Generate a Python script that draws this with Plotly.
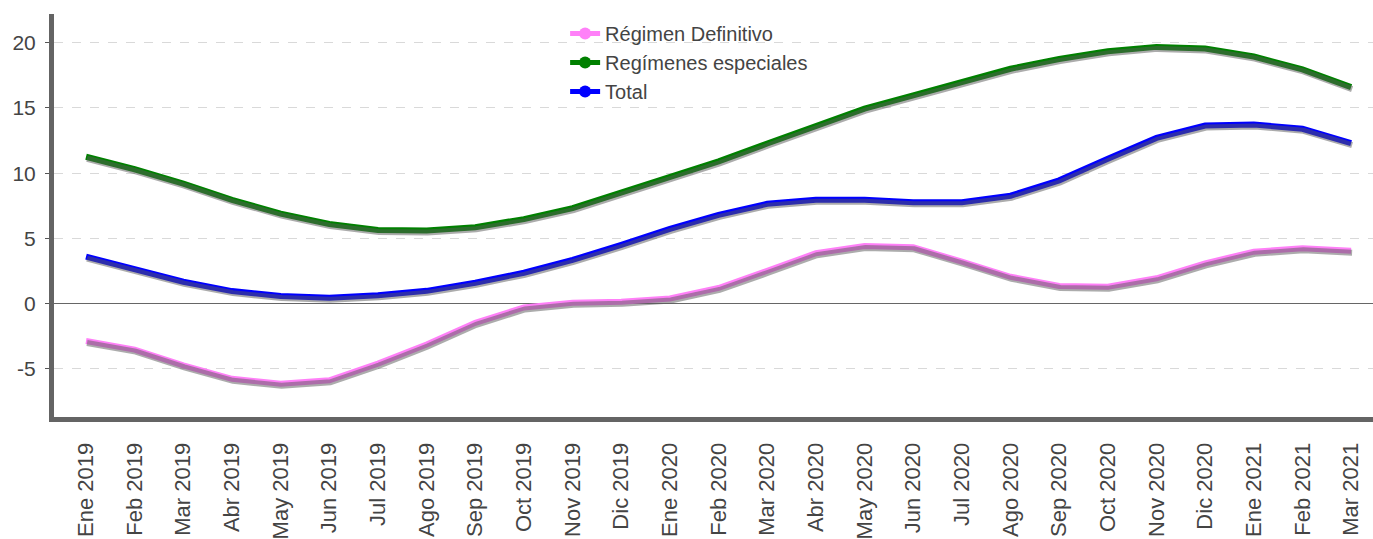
import plotly.graph_objects as go

months = ["Ene 2019", "Feb 2019", "Mar 2019", "Abr 2019", "May 2019", "Jun 2019", "Jul 2019",
          "Ago 2019", "Sep 2019", "Oct 2019", "Nov 2019", "Dic 2019", "Ene 2020", "Feb 2020",
          "Mar 2020", "Abr 2020", "May 2020", "Jun 2020", "Jul 2020", "Ago 2020", "Sep 2020",
          "Oct 2020", "Nov 2020", "Dic 2020", "Ene 2021", "Feb 2021", "Mar 2021"]

regimen_definitivo = [-2.86, -3.52, -4.73, -5.76, -6.14, -5.88, -4.6, -3.14, -1.47, -0.29, 0.06, 0.14,
                      0.4, 1.2, 2.52, 3.86, 4.42, 4.32, 3.22, 2.06, 1.35, 1.3, 1.94, 3.09, 3.98, 4.24, 4.06]
regimenes_especiales = [11.26, 10.3, 9.2, 7.96, 6.9, 6.1, 5.65, 5.6, 5.86, 6.48, 7.32, 8.48,
                        9.63, 10.9, 12.27, 13.6, 14.94, 15.96, 16.98, 18.0, 18.75, 19.35, 19.68, 19.55,
                        18.94, 17.96, 16.6]
total = [3.6, 2.6, 1.68, 0.96, 0.58, 0.45, 0.65, 0.98, 1.6, 2.37, 3.35, 4.5,
         5.73, 6.8, 7.65, 7.96, 7.96, 7.78, 7.78, 8.27, 9.45, 11.1, 12.7, 13.65, 13.73, 13.4, 12.3]

series = [
    ("Régimen Definitivo", regimen_definitivo, "#ff80f8"),
    ("Regímenes especiales", regimenes_especiales, "#008000"),
    ("Total", total, "#0000ff"),
]

x_range = [-0.658, 26.45]
y_range = [-8.69, 22.2]
px_x = 48.65
px_y = 13.03

fig = go.Figure()

# shadows
for name, vals, col in series:
    fig.add_trace(go.Scatter(x=months, y=vals, mode="lines", xaxis="x2", yaxis="y2",
                             line=dict(color="rgba(90,90,90,0.5)", width=6),
                             showlegend=False, hoverinfo="skip"))
# main lines
for name, vals, col in series:
    fig.add_trace(go.Scatter(x=months, y=vals, mode="lines", name=name,
                             line=dict(color=col, width=6), showlegend=False))
# legend entries
for name, vals, col in series:
    fig.add_trace(go.Scatter(x=[None], y=[None], mode="lines+markers", name=name,
                             line=dict(color=col, width=5),
                             marker=dict(color=col, size=12), showlegend=True))

fig.update_layout(
    width=1373, height=539,
    margin=dict(l=54, r=0, t=14, b=122, autoexpand=False),
    paper_bgcolor="white", plot_bgcolor="white",
    font=dict(family="Liberation Sans, Arial, sans-serif", color="#444444"),
    legend=dict(x=0.3875, y=1.0, xanchor="left", yanchor="top",
                font=dict(size=20, color="#444444"), bgcolor="rgba(0,0,0,0)",
                tracegroupgap=0, itemwidth=30),
    xaxis=dict(type="category", range=x_range, showgrid=False, zeroline=False,
               showline=True, linecolor="#646464", linewidth=5, automargin=False,
               tickangle=-90, tickfont=dict(size=22, color="#444444"),
               ticks="", ticklabelstandoff=12),
    yaxis=dict(range=y_range, tickvals=[-5, 0, 5, 10, 15, 20],
               ticktext=["-5", "0", "5", "10", "15", "20"], automargin=False,
               showgrid=True, gridcolor="#d9d9d9", griddash="dash", gridwidth=1,
               zeroline=True, zerolinecolor="#666666", zerolinewidth=1,
               showline=True, linecolor="#646464", linewidth=5,
               ticks="outside", ticklen=4, tickcolor="#555555",
               tickfont=dict(size=21, color="#444444"), ticklabelstandoff=5),
    xaxis2=dict(type="category", overlaying="x", visible=False,
                range=[x_range[0] - 1.0 / px_x, x_range[1] - 1.0 / px_x]),
    yaxis2=dict(overlaying="y", visible=False,
                range=[y_range[0] + 2.0 / px_y, y_range[1] + 2.0 / px_y]),
)

fig.write_html("out.html", config={"displayModeBar": False},
               post_script="document.body.style.margin='0';document.body.style.overflow='hidden';")
